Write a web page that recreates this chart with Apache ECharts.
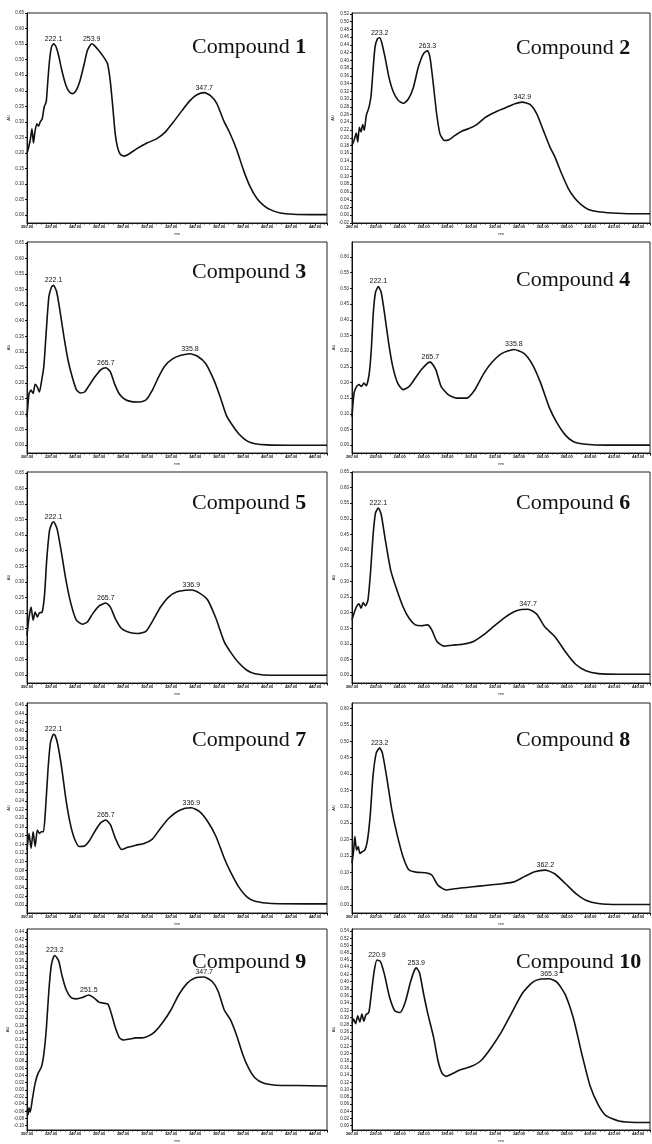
<!DOCTYPE html>
<html>
<head>
<meta charset="utf-8">
<script src="https://cdn.jsdelivr.net/npm/echarts@6/dist/echarts.min.js"></script>
<style>
  html, body { margin: 0; padding: 0; background: #fff; }
  #chart { width: 652px; height: 1144px; }
</style>
</head>
<body>
<div id="chart"></div>
<script>
// compound labels
var compounds = ['1', '2', '3', '4', '5', '6', '7', '8', '9', '10'];

// x axis ticks (nm)
var xTicks = [200, 220, 240, 260, 280, 300, 320, 340, 360, 380, 400, 420, 440];

// y axis tick labels (AU), read as well as the blur allows
var yTicksA = [0, 0.05, 0.1, 0.15, 0.2, 0.25, 0.3, 0.35, 0.4, 0.45, 0.5, 0.55, 0.6, 0.65];
var yTicksB = [-0.02, 0, 0.02, 0.04, 0.06, 0.08, 0.1, 0.12, 0.14, 0.16, 0.18, 0.2, 0.22, 0.24, 0.26, 0.28, 0.3, 0.32, 0.34, 0.36, 0.38, 0.4, 0.42, 0.44, 0.46, 0.48, 0.5, 0.52];
var yTicksC = [0, 0.02, 0.04, 0.06, 0.08, 0.1, 0.12, 0.14, 0.16, 0.18, 0.2, 0.22, 0.24, 0.26, 0.28, 0.3, 0.32, 0.34, 0.36, 0.38, 0.4, 0.42, 0.44, 0.46];
var yTicksD = [0, 0.05, 0.1, 0.15, 0.2, 0.25, 0.3, 0.35, 0.4, 0.45, 0.5, 0.55, 0.6];
var yTicksE = [-0.1, -0.08, -0.06, -0.04, -0.02, 0, 0.02, 0.04, 0.06, 0.08, 0.1, 0.12, 0.14, 0.16, 0.18, 0.2, 0.22, 0.24, 0.26, 0.28, 0.3, 0.32, 0.34, 0.36, 0.38, 0.4, 0.42, 0.44];
var yTicksF = [0, 0.02, 0.04, 0.06, 0.08, 0.1, 0.12, 0.14, 0.16, 0.18, 0.2, 0.22, 0.24, 0.26, 0.28, 0.3, 0.32, 0.34, 0.36, 0.38, 0.4, 0.42, 0.44, 0.46, 0.48, 0.5, 0.52, 0.54];

// y axis ranges per compound
var yMin = [-0.025, -0.02, -0.025, -0.025, -0.025, -0.025, -0.018, -0.024, -0.112, -0.012];
var yMax = [0.65, 0.522, 0.653, 0.648, 0.653, 0.65, 0.465, 0.617, 0.449, 0.546];

// spectra: [wavelength nm, absorbance]
var spec1 = [[200,0.198],[202.7,0.241],[204.1,0.278],[205.4,0.232],[206.6,0.268],[208.2,0.294],[209.6,0.286],[211,0.30],[212.7,0.31],[214.3,0.348],[216,0.364],[217.4,0.434],[218.8,0.498],[220.4,0.541],[222.1,0.551],[224,0.543],[226.3,0.514],[229,0.466],[232.4,0.418],[235.4,0.396],[238.2,0.391],[241,0.401],[244.3,0.434],[247.7,0.487],[250.4,0.53],[253.9,0.551],[256,0.546],[259.6,0.53],[263.8,0.509],[267.1,0.487],[269.3,0.434],[271.5,0.348],[273.5,0.262],[275.4,0.219],[277.7,0.196],[281,0.19],[284.6,0.196],[291.6,0.214],[300,0.232],[308.2,0.246],[315.4,0.268],[322.1,0.30],[329.3,0.337],[336,0.369],[341.6,0.387],[347.7,0.394],[352.7,0.385],[358.2,0.359],[363.8,0.305],[369.3,0.262],[374.9,0.209],[380.4,0.145],[386,0.091],[391.6,0.054],[397.1,0.032],[402.7,0.018],[411,0.007],[422.1,0.003],[436,0.002],[450,0.002]];
var spec2 = [[200,0.180],[201.7,0.193],[203.6,0.212],[204.8,0.189],[206.2,0.227],[207.6,0.215],[209,0.234],[210.3,0.219],[212,0.258],[214.3,0.279],[216,0.309],[217.6,0.373],[219.3,0.433],[221.3,0.455],[223.2,0.458],[224.9,0.446],[227.7,0.408],[231,0.356],[234.7,0.318],[238.9,0.296],[243.1,0.289],[247.3,0.30],[251.5,0.33],[255.6,0.382],[259.8,0.416],[263.3,0.425],[265.4,0.408],[268.2,0.339],[271,0.262],[273.8,0.21],[277.5,0.193],[281.4,0.195],[286.4,0.206],[292,0.217],[297.6,0.223],[304.6,0.234],[311.6,0.252],[320,0.266],[328.4,0.277],[336.7,0.288],[342.9,0.292],[349.3,0.286],[354.9,0.262],[360.5,0.219],[366.1,0.176],[370.3,0.15],[375.9,0.107],[381.5,0.069],[387.1,0.043],[392.7,0.026],[398.3,0.015],[406.7,0.009],[417.8,0.006],[434.6,0.004],[450,0.004]];
var spec3 = [[200,0.091],[201.7,0.166],[203.4,0.177],[205.1,0.166],[206.8,0.196],[208.6,0.187],[210.3,0.171],[212,0.203],[214,0.252],[216.1,0.369],[218.2,0.476],[220.5,0.509],[222.1,0.514],[224.7,0.493],[227.4,0.434],[230.8,0.348],[234.2,0.273],[237.7,0.219],[241.1,0.179],[244.5,0.168],[248,0.171],[251.4,0.19],[256.5,0.219],[261.6,0.243],[265.7,0.249],[269.5,0.236],[272.9,0.198],[277.1,0.164],[282.2,0.146],[287.3,0.14],[294.2,0.139],[299.3,0.146],[304.5,0.177],[309.6,0.219],[314.7,0.254],[321.6,0.278],[328.4,0.289],[335.8,0.294],[342.1,0.286],[349,0.262],[355.8,0.209],[361,0.155],[366.1,0.096],[371.2,0.064],[376.4,0.037],[383.2,0.014],[390.1,0.005],[400.3,0.001],[417.5,0],[450,0]];
var spec4 = [[200,0.091],[201.7,0.166],[203.8,0.187],[205.9,0.193],[207.9,0.187],[210,0.198],[212.1,0.19],[214.5,0.23],[216.2,0.305],[217.9,0.423],[219.7,0.487],[222.1,0.506],[224.5,0.487],[227.2,0.423],[230.7,0.327],[234.1,0.252],[238.3,0.198],[242.8,0.177],[247.9,0.187],[253.1,0.214],[258.3,0.241],[263.4,0.262],[265.7,0.265],[270.3,0.241],[274.8,0.187],[280.7,0.161],[287.6,0.15],[296.2,0.15],[303.1,0.177],[310,0.225],[316.9,0.262],[325.5,0.292],[335.8,0.305],[344.5,0.292],[351.4,0.257],[358.3,0.198],[365.2,0.123],[372.1,0.07],[379,0.032],[385.9,0.011],[396.2,0.003],[413.4,0],[450,0]];
var spec5 = [[200,0.128],[201.7,0.187],[203.4,0.219],[205.1,0.177],[206.8,0.203],[208.6,0.187],[210.3,0.2],[212.7,0.203],[214.7,0.262],[216.4,0.369],[218.8,0.466],[220.9,0.489],[222.1,0.493],[225,0.471],[228.4,0.401],[232.5,0.305],[236.6,0.23],[241.1,0.177],[246.2,0.164],[250.3,0.171],[254.8,0.198],[259.9,0.222],[265.7,0.232],[269.5,0.219],[273.6,0.182],[278.8,0.15],[285.6,0.137],[292.5,0.134],[299.3,0.142],[305.1,0.177],[311.3,0.219],[318.2,0.252],[325,0.268],[331.8,0.273],[336.9,0.274],[343.8,0.264],[350.7,0.241],[357.5,0.182],[364.4,0.107],[369.5,0.075],[375.7,0.043],[383.2,0.016],[390.1,0.005],[403.8,0],[450,0]];
var spec6 = [[200,0.177],[201.7,0.198],[203.8,0.219],[205.9,0.228],[207.6,0.214],[209.3,0.232],[211.4,0.222],[213.4,0.241],[215.5,0.327],[217.6,0.444],[219.7,0.519],[222.1,0.535],[224.5,0.514],[227.9,0.434],[232.4,0.337],[237.6,0.273],[242.8,0.219],[247.9,0.182],[253.1,0.161],[258.3,0.158],[263.4,0.161],[266.9,0.145],[271.4,0.107],[277.2,0.093],[284.1,0.096],[292.8,0.099],[301.4,0.107],[310,0.128],[318.6,0.155],[327.2,0.182],[335.9,0.203],[342,0.21],[347.7,0.211],[354.8,0.196],[361.7,0.155],[370.3,0.123],[379,0.075],[387.6,0.035],[396.2,0.014],[406.6,0.005],[423.8,0.003],[450,0.003]];
var spec7 = [[200,0.127],[201.7,0.165],[203.4,0.131],[205.1,0.169],[206.8,0.135],[208.6,0.173],[210.3,0.165],[212,0.169],[213.7,0.169],[215.4,0.219],[217.5,0.312],[219.5,0.373],[222.1,0.393],[223.5,0.39],[225.7,0.369],[229.1,0.312],[232.5,0.242],[236,0.188],[239.4,0.154],[243.5,0.135],[247.9,0.136],[252.4,0.15],[257.2,0.173],[261.6,0.19],[265.7,0.196],[269.5,0.185],[273.6,0.154],[278.8,0.128],[283.9,0.133],[290.8,0.138],[297.6,0.142],[304.5,0.152],[311.3,0.177],[318.2,0.2],[325,0.215],[331.8,0.223],[336.9,0.224],[343.8,0.215],[350.7,0.192],[357.5,0.158],[364.4,0.108],[369.5,0.077],[376.4,0.042],[383.2,0.019],[390.1,0.009],[403.8,0.004],[450,0.003]];
var spec8 = [[200,0.128],[201.4,0.168],[202.4,0.209],[203.8,0.168],[205.2,0.179],[206.6,0.158],[208.6,0.163],[210.7,0.168],[212.8,0.194],[215.2,0.27],[217.6,0.393],[220.3,0.464],[223.2,0.48],[225.5,0.464],[229,0.393],[233.4,0.291],[237.6,0.219],[242.8,0.148],[247.9,0.107],[254.8,0.1],[261.7,0.099],[266.9,0.092],[272.1,0.061],[279,0.046],[285.9,0.05],[296.2,0.054],[306.6,0.058],[316.9,0.062],[327.2,0.066],[335.9,0.071],[344.5,0.087],[353.1,0.102],[362.2,0.107],[370.3,0.095],[379,0.066],[387.6,0.036],[396.2,0.015],[406.6,0.005],[423.8,0.002],[450,0.002]];
var spec9 = [[200,-0.055],[201,-0.069],[201.7,-0.05],[202.7,-0.062],[204.5,-0.025],[206.8,0.019],[209.2,0.046],[212,0.064],[214,0.099],[216.1,0.17],[218.2,0.276],[220.2,0.347],[222,0.37],[223.2,0.375],[226.4,0.36],[229.1,0.32],[232.5,0.281],[236.6,0.258],[241.1,0.254],[246.2,0.258],[251.5,0.265],[255.8,0.257],[259.9,0.245],[264,0.242],[267.5,0.239],[270.2,0.214],[273.6,0.174],[277.1,0.145],[280.5,0.139],[285.6,0.142],[290.8,0.145],[295.9,0.145],[301,0.15],[306.2,0.161],[313,0.188],[319.9,0.223],[326.7,0.267],[333.6,0.298],[340.4,0.313],[347.7,0.315],[354.1,0.303],[359.2,0.276],[364.4,0.223],[369.5,0.196],[374.7,0.152],[379.8,0.099],[384.9,0.059],[390.1,0.033],[396.9,0.019],[407.2,0.013],[424.3,0.012],[450,0.011]];
var spec10 = [[200,0.283],[201.4,0.296],[203.1,0.283],[204.8,0.305],[206.6,0.288],[208.3,0.31],[210,0.29],[211.7,0.308],[214.1,0.314],[216.2,0.367],[218.6,0.429],[220.9,0.46],[223.8,0.456],[227.2,0.42],[231.4,0.358],[235.9,0.319],[240.3,0.314],[244.5,0.341],[249,0.398],[252.1,0.429],[253.9,0.438],[256.6,0.425],[260,0.367],[263.4,0.314],[268.6,0.243],[272.1,0.181],[275.5,0.146],[279,0.137],[284.1,0.144],[291,0.155],[299.7,0.164],[308.3,0.181],[316.9,0.217],[325.5,0.261],[334.1,0.314],[342.8,0.367],[351.4,0.398],[358.3,0.407],[365.3,0.408],[372.1,0.398],[379,0.363],[385.9,0.296],[392.8,0.199],[399.7,0.111],[406.6,0.058],[413.4,0.027],[423.8,0.013],[437.6,0.009],[450,0.009]];

// labelled maxima: [nm, absorbance]
var peaks1 = [[222.1,0.551],[253.9,0.551],[347.7,0.394]];
var peaks2 = [[223.2,0.458],[263.3,0.425],[342.9,0.292]];
var peaks3 = [[222.1,0.514],[265.7,0.249],[335.8,0.294]];
var peaks4 = [[222.1,0.506],[265.7,0.265],[335.8,0.305]];
var peaks5 = [[222.1,0.493],[265.7,0.232],[336.9,0.274]];
var peaks6 = [[222.1,0.535],[347.7,0.211]];
var peaks7 = [[222.1,0.393],[265.7,0.196],[336.9,0.224]];
var peaks8 = [[223.2,0.48],[362.2,0.107]];
var peaks9 = [[223.2,0.375],[251.5,0.265],[347.7,0.315]];
var peaks10 = [[220.9,0.46],[253.9,0.438],[365.3,0.408]];

var specs = [spec1, spec2, spec3, spec4, spec5, spec6, spec7, spec8, spec9, spec10];
var peaks = [peaks1, peaks2, peaks3, peaks4, peaks5, peaks6, peaks7, peaks8, peaks9, peaks10];
var yTicks = [yTicksA, yTicksB, yTicksA, yTicksA, yTicksA, yTicksA, yTicksC, yTicksD, yTicksE, yTicksF];

// layout
var colLeft = [27, 352];
var colWidth = [300, 298];
var rowTop = [13, 242, 472, 703, 929];
var rowHeight = [210, 211, 211, 210, 211];
var titleLeft = [192, 516];
var titleTop = [36, 37, 261, 269, 492, 492, 729, 729, 951, 951];

var chart = echarts.init(document.getElementById('chart'), null, { renderer: 'canvas' });

var option = {
    backgroundColor: '#fff',
    animation: false,
    title: [],
    grid: [],
    xAxis: [],
    yAxis: [],
    series: []
};

for (var i = 0; i < 10; i++) {
    var col = i % 2;
    var row = Math.floor(i / 2);

    option.title.push({
        text: '{a|Compound }{b|' + compounds[i] + '}',
        left: titleLeft[col],
        top: titleTop[i],
        padding: 0,
        textStyle: {
            fontWeight: 'normal',
            rich: {
                a: { fontFamily: 'Liberation Serif', fontSize: 22, lineHeight: 22, fontWeight: 'normal', color: '#111' },
                b: { fontFamily: 'Liberation Serif', fontSize: 22, lineHeight: 22, fontWeight: 'bold', color: '#111' }
            }
        }
    });

    option.grid.push({
        left: colLeft[col],
        top: rowTop[row],
        width: colWidth[col],
        height: rowHeight[row],
        show: true,
        borderColor: '#222',
        borderWidth: 1,
        backgroundColor: 'transparent'
    });

    option.xAxis.push({
        type: 'value',
        gridIndex: i,
        min: 200,
        max: 450,
        interval: 20,
        name: 'nm',
        nameLocation: 'middle',
        nameGap: 9,
        nameTextStyle: { fontSize: 4, color: '#111' },
        axisLine: { onZero: false, lineStyle: { color: '#111', width: 1 } },
        axisTick: { length: 2.5, lineStyle: { color: '#111' } },
        minorTick: { show: true, splitNumber: 5, length: 1.5, lineStyle: { color: '#222' } },
        axisLabel: {
            customValues: xTicks,
            formatter: function (v) { return v.toFixed(2); },
            fontSize: 4,
            fontWeight: 'bold',
            margin: 2,
            color: '#111'
        },
        splitLine: { show: false }
    });

    option.yAxis.push({
        type: 'value',
        gridIndex: i,
        min: yMin[i],
        max: yMax[i],
        name: 'AU',
        nameLocation: 'middle',
        nameGap: 16,
        nameTextStyle: { fontSize: 4, color: '#111' },
        axisLine: { show: true, onZero: false, lineStyle: { color: '#111', width: 1 } },
        axisTick: { show: true, customValues: yTicks[i], length: 2, lineStyle: { color: '#111' } },
        axisLabel: {
            customValues: yTicks[i],
            formatter: function (v) { return v.toFixed(2); },
            fontSize: 4.5,
            margin: 3,
            color: '#222'
        },
        splitLine: { show: false }
    });

    option.series.push({
        type: 'line',
        xAxisIndex: i,
        yAxisIndex: i,
        data: specs[i],
        showSymbol: false,
        smooth: 0.2,
        silent: true,
        lineStyle: { color: '#111', width: 1.6 },
        markPoint: {
            symbol: 'circle',
            symbolSize: 1,
            itemStyle: { color: 'rgba(0,0,0,0)' },
            label: {
                show: true,
                position: 'top',
                distance: 1,
                fontSize: 7,
                fontFamily: 'Liberation Sans',
                color: '#111',
                formatter: function (p) { return p.value; }
            },
            data: peaks[i].map(function (p) {
                return { coord: p, value: p[0].toFixed(1) };
            })
        }
    });
}

chart.setOption(option);
</script>
</body>
</html>
